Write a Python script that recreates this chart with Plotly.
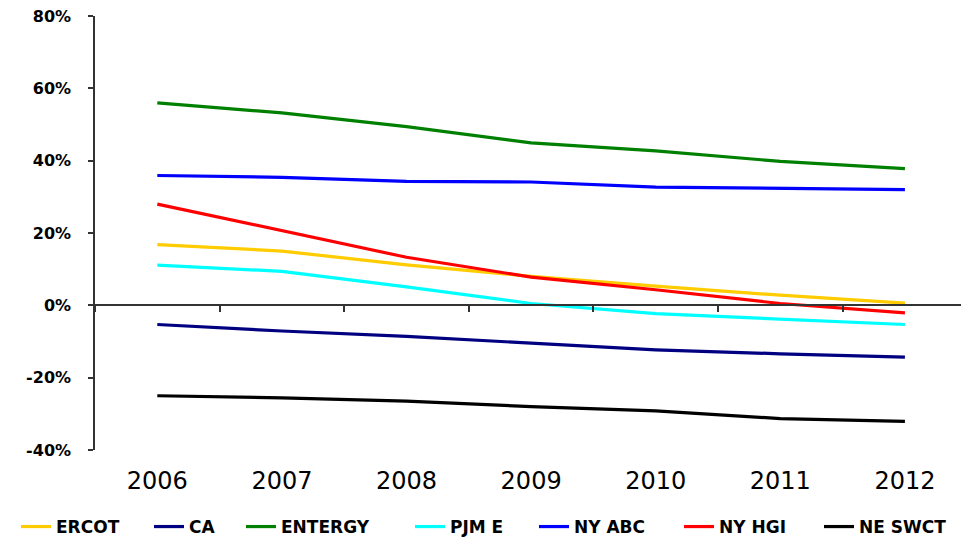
import plotly.graph_objects as go

years = ["2006", "2007", "2008", "2009", "2010", "2011", "2012"]

ercot = [16.8, 15.0, 11.2, 8.0, 5.3, 2.8, 0.6]
ca = [-5.3, -7.1, -8.6, -10.4, -12.3, -13.4, -14.3]
entergy = [56.0, 53.2, 49.4, 44.9, 42.7, 39.8, 37.8]
pjm_e = [11.1, 9.4, 5.1, 0.5, -2.3, -3.7, -5.3]
ny_abc = [35.9, 35.4, 34.3, 34.1, 32.7, 32.4, 32.0]
ny_hgi = [28.0, 20.6, 13.3, 7.8, 4.3, 0.5, -2.1]
ne_swct = [-25.0, -25.6, -26.5, -28.0, -29.2, -31.3, -32.1]

y_ticks = [-40, -20, 0, 20, 40, 60, 80]
y_tick_text = ["-40%", "-20%", "0%", "20%", "40%", "60%", "80%"]

series = [
    ("ERCOT", ercot, "#FFCC00"),
    ("CA", ca, "#000080"),
    ("ENTERGY", entergy, "#008000"),
    ("PJM E", pjm_e, "#00FFFF"),
    ("NY ABC", ny_abc, "#0000FF"),
    ("NY HGI", ny_hgi, "#FF0000"),
    ("NE SWCT", ne_swct, "#000000"),
]

# left pixel of each legend entry
legend_px = [16, 149, 241, 410, 534, 679, 819]

W, H = 961, 540
ML, MR, MT, MB = 95, 0, 16, 90
PW = W - ML - MR
PH = H - MT - MB

fig = go.Figure()
for i, (name, vals, col) in enumerate(series):
    lg = "legend" if i == 0 else f"legend{i+1}"
    fig.add_trace(go.Scatter(
        x=years, y=vals, name=name, mode="lines",
        line=dict(color=col, width=3.2),
        legend=lg,
    ))

# dummy trace for the zero-line axis
fig.add_trace(go.Scatter(x=years, y=[None]*len(years), xaxis="x2",
                         showlegend=False, hoverinfo="skip", mode="lines"))

xr = [-0.5, 6.45]
layout = dict(
    width=W, height=H,
    margin=dict(l=ML, r=MR, t=MT, b=MB, autoexpand=False),
    paper_bgcolor="white", plot_bgcolor="white",
    showlegend=True,
    xaxis=dict(
        type="category", range=xr, showline=False, showgrid=False,
        zeroline=False, ticks="", ticklabelstandoff=14, automargin=False,
        tickfont=dict(family="DejaVu Sans", size=24, color="black"),
    ),
    xaxis2=dict(
        type="category", range=xr, overlaying="x", anchor="free",
        position=1/3, side="bottom", showline=True, linecolor="#333333",
        linewidth=1.5, ticks="outside", tickson="boundaries", ticklen=6,
        tickcolor="#333333", tickwidth=1.5, showticklabels=False,
        showgrid=False, zeroline=False, automargin=False,
    ),
    yaxis=dict(
        range=[-40, 80], tickvals=y_ticks, ticktext=y_tick_text,
        showline=True, linecolor="#333333", linewidth=1.5,
        ticks="outside", ticklen=5, tickcolor="#333333", tickwidth=1.5,
        showgrid=False, zeroline=False, ticklabelstandoff=14,
        automargin=False,
        tickfont=dict(family="DejaVu Sans", size=16, color="black",
                      weight="bold"),
    ),
)

legend_font = dict(family="DejaVu Sans", size=17, color="black",
                   weight="bold")
for i, px in enumerate(legend_px):
    key = "legend" if i == 0 else f"legend{i+1}"
    layout[key] = dict(
        x=(px - ML) / PW, xanchor="left",
        y=(H - MB - 527) / PH, yanchor="middle",
        orientation="h", font=legend_font, bgcolor="rgba(0,0,0,0)",
        borderwidth=0,
    )

fig.update_layout(**layout)
fig.write_html(
    "out.html",
    config={"displayModeBar": False},
    post_script="document.body.style.margin='0';"
                "document.body.style.overflow='hidden';",
)
